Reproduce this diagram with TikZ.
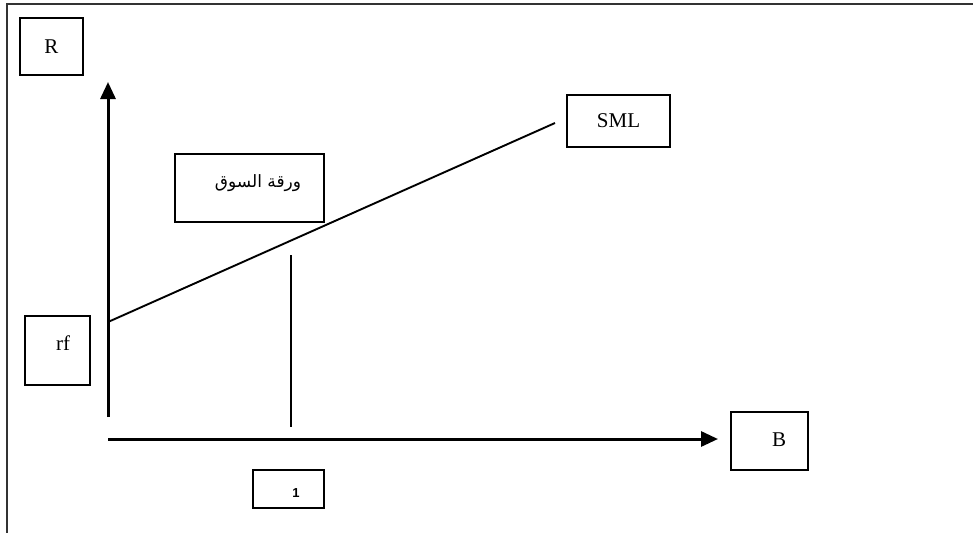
\documentclass[tikz,border=0pt]{standalone}
\usepackage{fontspec}
\setmainfont{Liberation Serif}
\newfontfamily\arabicfont[Script=Arabic]{DejaVu Sans}
\newfontfamily\digitfont{Liberation Sans}
\TeXXeTstate=1
\usetikzlibrary{arrows.meta}
\begin{document}
\begin{tikzpicture}[x=1pt,y=-1pt,
  box/.style={draw, line width=2pt, rectangle, inner sep=0pt},
  axis/.style={line width=3pt, -{Triangle[length=17pt,width=15pt]}},
  plain/.style={line width=1.9pt},
  lbl/.style={font=\fontsize{21}{24}\selectfont}]
\useasboundingbox (0,0) rectangle (973,533);
% frame
\coordinate (ftr) at (973,4);
\coordinate (ftl) at (7,4);
\coordinate (fbl) at (7,533);
\draw[line width=2.4pt, black!80] (ftr) -- (ftl) -- (fbl);
% boxes
\node[box, minimum width=63pt, minimum height=57pt, lbl] (R) at (51.5,46.5) {R};
\node[box, minimum width=65pt, minimum height=69pt] (rf) at (57.5,350.5) {};
\node[lbl, anchor=center] (rft) at (63,343) {rf};
\node[box, minimum width=103pt, minimum height=52pt, lbl] (SML) at (618.5,121) {SML};
\node[box, minimum width=149pt, minimum height=68pt] (mkt) at (249.5,188) {};
\node[font=\arabicfont\fontsize{17}{20}\selectfont] (mktt) at (258,183) {\beginR ورقة السوق\endR};
\node[box, minimum width=77pt, minimum height=58pt] (B) at (769.5,441) {};
\node[lbl] (Bt) at (779,440) {B};
\node[box, minimum width=71pt, minimum height=38pt] (one) at (288.5,489) {};
\node[font=\digitfont\bfseries\fontsize{13}{14}\selectfont] (onet) at (296,493) {1};
% axes
\coordinate (o1) at (108,417);
\coordinate (ytip) at (108,82);
\coordinate (o2) at (108,439);
\coordinate (xtip) at (718,439);
\draw[axis] (o1) -- (ytip);
\draw[axis] (o2) -- (xtip);
% SML line
\coordinate (rfpt) at (108,322);
\coordinate (smlend) at (555,123);
\draw[plain] (rfpt) -- (smlend);
% beta = 1 line
\coordinate (vtop) at (291,255);
\coordinate (vbot) at (291,427);
\draw[plain] (vtop) -- (vbot);
\end{tikzpicture}
\end{document}
